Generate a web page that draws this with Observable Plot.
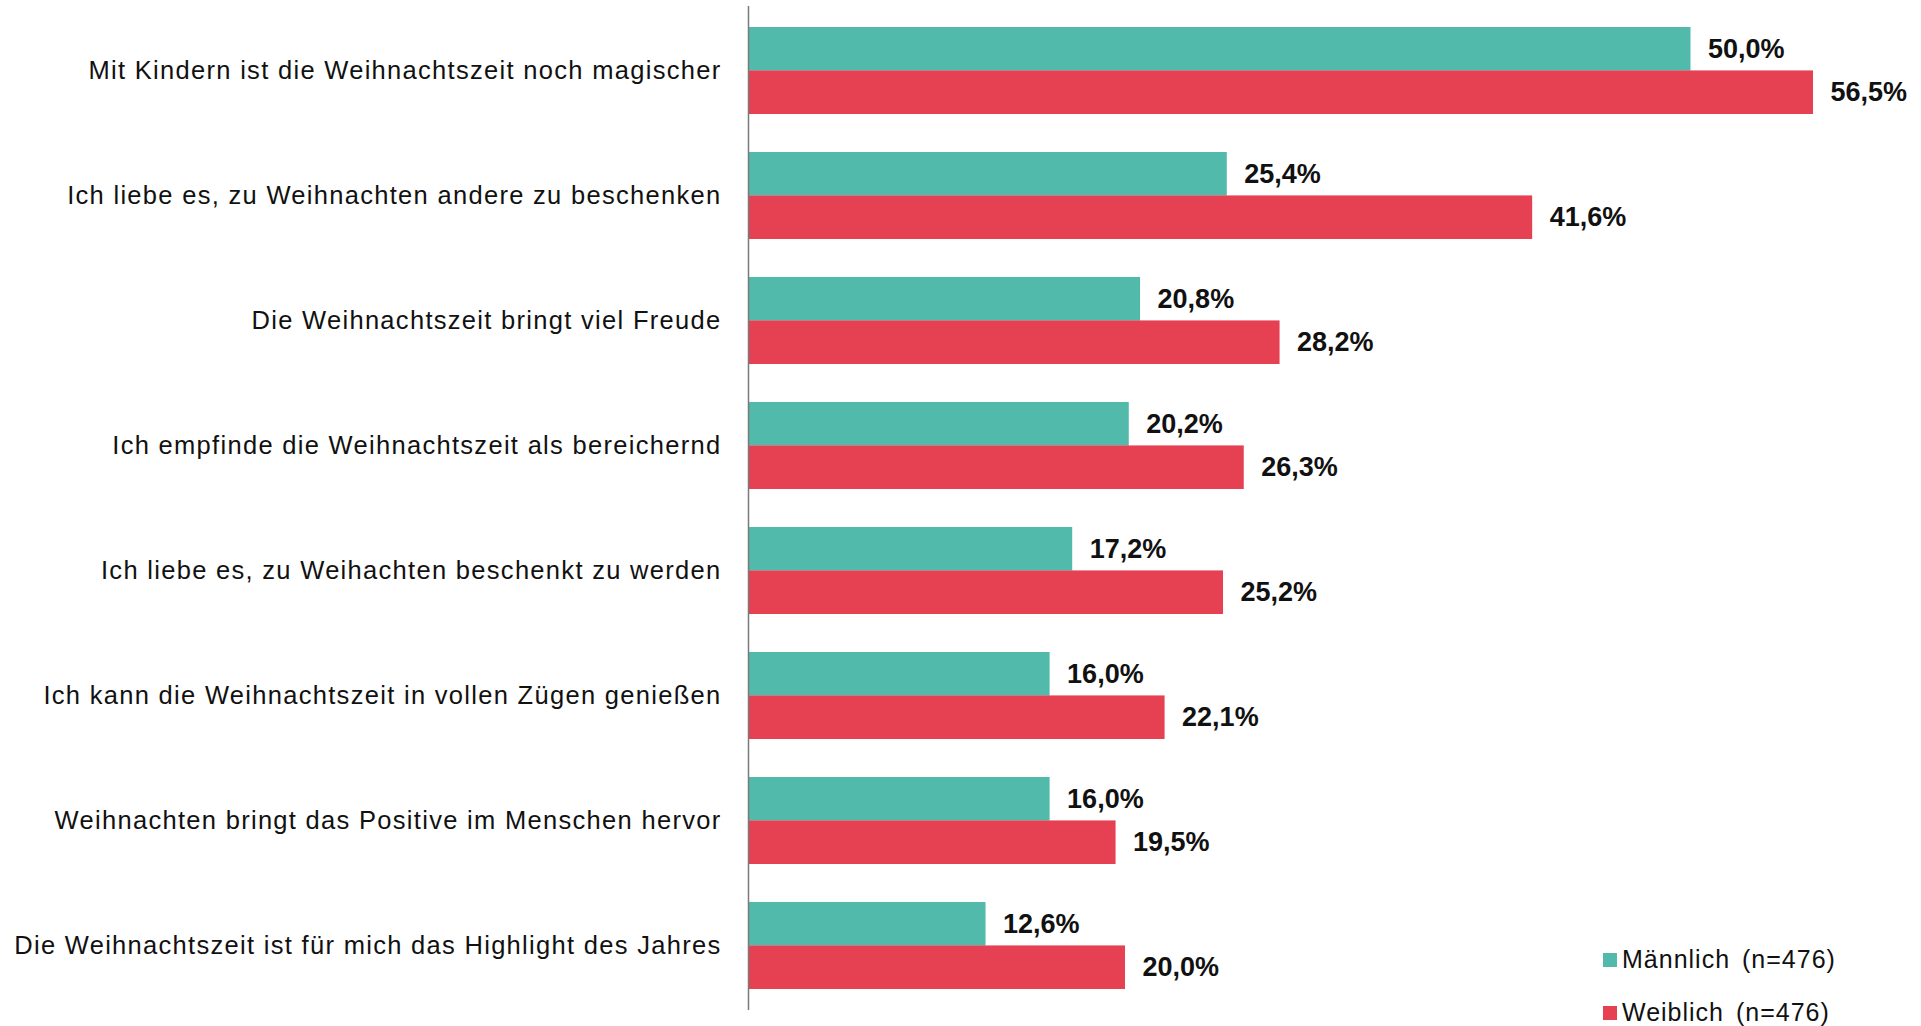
<!DOCTYPE html>
<html>
<head>
<meta charset="utf-8">
<script src="https://cdn.jsdelivr.net/npm/d3@7"></script>
<script src="https://cdn.jsdelivr.net/npm/@observablehq/plot@0.6"></script>
<style>
  html, body { margin: 0; padding: 0; background: #fff; }
  #wrap { position: relative; width: 1921px; height: 1026px; overflow: hidden; }
  #chart svg { font-family: "Liberation Sans", Arial, sans-serif; }
  #chart g[aria-label="y-axis tick label"] text { letter-spacing: 1.3px; }
  #legend { position: absolute; left: 1603px; top: 940px; font-family: "Liberation Sans", Arial, sans-serif; font-size: 25px; color: #111; letter-spacing: 1px; word-spacing: 4px; }
  #legend .row { display: flex; align-items: center; height: 38px; margin-bottom: 15px; }
  #legend .sw { width: 14px; height: 14px; margin-right: 5px; margin-top: 2px; }
</style>
</head>
<body>
<div id="wrap">
  <div id="chart"></div>
  <div id="legend"></div>
</div>
<script>
const categories = [
  "Mit Kindern ist die Weihnachtszeit noch magischer",
  "Ich liebe es, zu Weihnachten andere zu beschenken",
  "Die Weihnachtszeit bringt viel Freude",
  "Ich empfinde die Weihnachtszeit als bereichernd",
  "Ich liebe es, zu Weihachten beschenkt zu werden",
  "Ich kann die Weihnachtszeit in vollen Zügen genießen",
  "Weihnachten bringt das Positive im Menschen hervor",
  "Die Weihnachtszeit ist für mich das Highlight des Jahres"
];
const maennlich = [50.0, 25.4, 20.8, 20.2, 17.2, 16.0, 16.0, 12.6];
const weiblich  = [56.5, 41.6, 28.2, 26.3, 25.2, 22.1, 19.5, 20.0];
const seriesNames = ["Männlich (n=476)", "Weiblich (n=476)"];
const seriesColors = ["#52baab", "#e54152"];

const dataM = categories.map((c, i) => ({category: c, value: maennlich[i]}));
const dataW = categories.map((c, i) => ({category: c, value: weiblich[i]}));

const width = 1921, height = 1026;
const marginTop = 6, marginBottom = 16, marginLeft = 748, marginRight = 42;
const padIn = 0.308, padOut = 0.155;
const n = categories.length;
const step = (height - marginTop - marginBottom) / (n - padIn + 2 * padOut);
const bw = step * (1 - padIn);
const half = bw / 2;

const fmt = v => v.toFixed(1).replace(".", ",") + "%";

const chart = Plot.plot({
  width, height, marginTop, marginBottom, marginLeft, marginRight,
  x: {domain: [0, 60], axis: null},
  y: {domain: categories, paddingInner: padIn, paddingOuter: padOut, label: null},
  marks: [
    Plot.barX(dataM, {x: "value", y: "category", fill: seriesColors[0], insetBottom: half}),
    Plot.barX(dataW, {x: "value", y: "category", fill: seriesColors[1], insetTop: half}),
    Plot.ruleX([0], {stroke: "#7a7a7a", strokeWidth: 1.5}),
    Plot.axisY({tickSize: 0, tickPadding: 27, fontSize: 25.5, label: null, color: "#111"}),
    Plot.text(dataM, {x: "value", y: "category", text: d => fmt(d.value), dy: -half / 2, dx: 17, textAnchor: "start", fontWeight: "bold", fontSize: 27, fill: "#111"}),
    Plot.text(dataW, {x: "value", y: "category", text: d => fmt(d.value), dy: half / 2, dx: 17, textAnchor: "start", fontWeight: "bold", fontSize: 27, fill: "#111"})
  ]
});
document.getElementById("chart").appendChild(chart);

const legend = document.getElementById("legend");
seriesNames.forEach((name, i) => {
  const row = document.createElement("div");
  row.className = "row";
  const sw = document.createElement("span");
  sw.className = "sw";
  sw.style.background = seriesColors[i];
  const t = document.createElement("span");
  t.textContent = name;
  row.appendChild(sw);
  row.appendChild(t);
  legend.appendChild(row);
});
</script>
</body>
</html>
